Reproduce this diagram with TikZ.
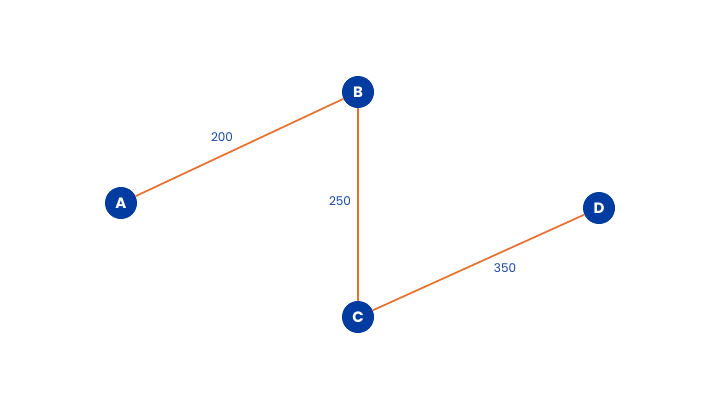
\documentclass[tikz,border=0pt]{standalone}
\usepackage{fontspec}
\setmainfont{Poppins}
\definecolor{nodeblue}{HTML}{023CA0}
\definecolor{edgeorange}{HTML}{EA6F2C}
\definecolor{labelblue}{HTML}{1446AE}
\begin{document}
\begin{tikzpicture}[x=1pt,y=-1pt,
  vert/.style={circle,fill=nodeblue,minimum size=32pt,inner sep=0pt,text=white,font=\fontsize{15}{15}\selectfont\bfseries},
  edge/.style={draw=edgeorange,line width=1.7pt},
  wlabel/.style={text=labelblue,font=\fontsize{12}{14}\selectfont}]
\useasboundingbox (0,0) rectangle (720,405);
\node[vert] (A) at (121,203) {A};
\node[vert] (B) at (358,92) {B};
\node[vert] (C) at (358,317) {C};
\node[vert] (D) at (599,208) {D};
\draw[edge] (A) -- (B);
\draw[edge] (B) -- (C);
\draw[edge] (C) -- (D);
\node[wlabel] (l1) at (222,137) {200};
\node[wlabel] (l2) at (340,201) {250};
\node[wlabel] (l3) at (505,268) {350};
\end{tikzpicture}
\end{document}
